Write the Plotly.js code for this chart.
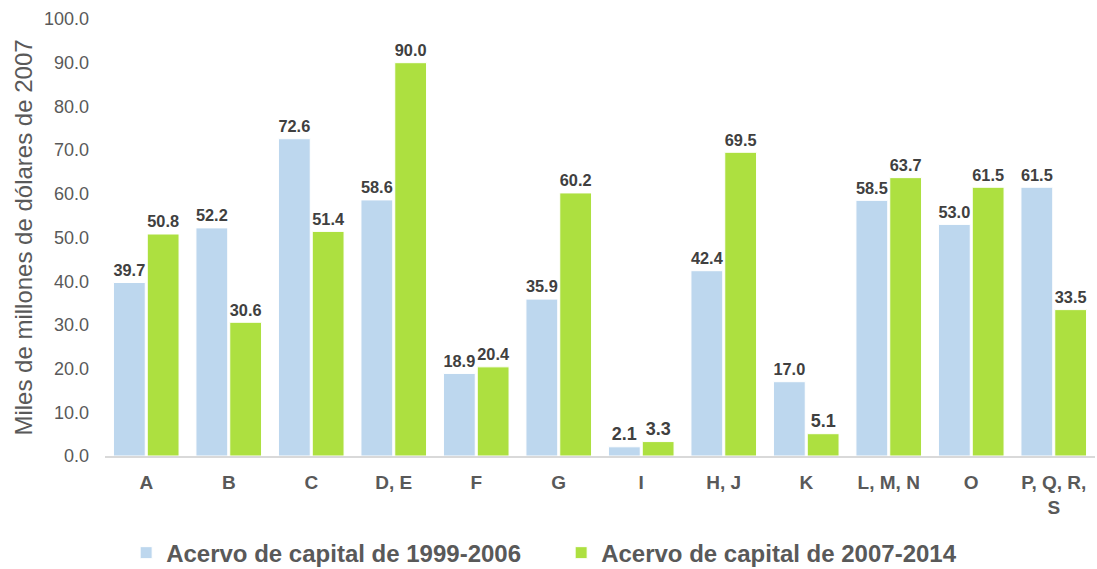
<!DOCTYPE html>
<html><head><meta charset="utf-8">
<script src="https://cdn.plot.ly/plotly-3.0.1.min.js"></script>
<style>body{margin:0;background:#fff}#c{width:1097px;height:569px}</style>
</head><body><div id="c"></div>
<script>
var categories = ["A","B","C","D, E","F","G","I","H, J","K","L, M, N","O","P, Q, R,<br>S"];
var series1Name = "Acervo de capital de 1999-2006";
var series2Name = "Acervo de capital de 2007-2014";
var series1 = [39.7,52.2,72.6,58.6,18.9,35.9,2.1,42.4,17.0,58.5,53.0,61.5];
var series2 = [50.8,30.6,51.4,90.0,20.4,60.2,3.3,69.5,5.1,63.7,61.5,33.5];
var yTicks = [0,10,20,30,40,50,60,70,80,90,100];

var labelFont = {family:"Liberation Sans, Arial, sans-serif", size:18, color:"#404040", weight:"bold"};
function trace(name, vals, color){
  return {type:"bar", name:name, x:categories, y:vals, marker:{color:color, line:{color:"#ffffff", width:1}},
    text:vals.map(function(v){return "<b>"+v.toFixed(1)+"</b>";}), textposition:"outside", cliponaxis:false,
    textfont:labelFont, hoverinfo:"none"};
}
var data = [trace(series1Name, series1, "#BDD7EE"), trace(series2Name, series2, "#ADE040")];
var layout = {
  width:1097, height:569,
  margin:{l:105, r:2, t:19, b:113},
  paper_bgcolor:"#fff", plot_bgcolor:"#fff",
  barmode:"group", bargap:0.18, bargroupgap:0.06,
  font:{family:"Liberation Sans, Arial, sans-serif", color:"#595959"},
  xaxis:{tickvals:categories, ticktext:categories.map(function(c){return "<b>"+c+"</b>";}),
    tickfont:{size:19, color:"#595959"}, ticklabelstandoff:8, showline:true, linecolor:"#D9D9D9", linewidth:2, ticks:"", showgrid:false, zeroline:false, automargin:false},
  yaxis:{range:[0,100], tickvals:yTicks, ticktext:yTicks.map(function(v){return v.toFixed(1);}),
    tickfont:{size:18, color:"#595959"}, ticklabelstandoff:15, showgrid:false, zeroline:false, showline:false, ticks:"", ticklen:0, automargin:false,
    title:{text:"Miles de millones de dólares de 2007", font:{size:24, color:"#595959"}, standoff:4}},
  showlegend:true,
  legend:{orientation:"h", xref:"container", x:0.115, xanchor:"left", yref:"container", y:0.028, yanchor:"middle",
    font:{size:24, color:"#595959", weight:"bold"}, itemwidth:30, entrywidth:390, entrywidthmode:"pixels", traceorder:"normal"}
};
Plotly.newPlot("c", data, layout, {displayModeBar:false, staticPlot:true});
</script></body></html>
